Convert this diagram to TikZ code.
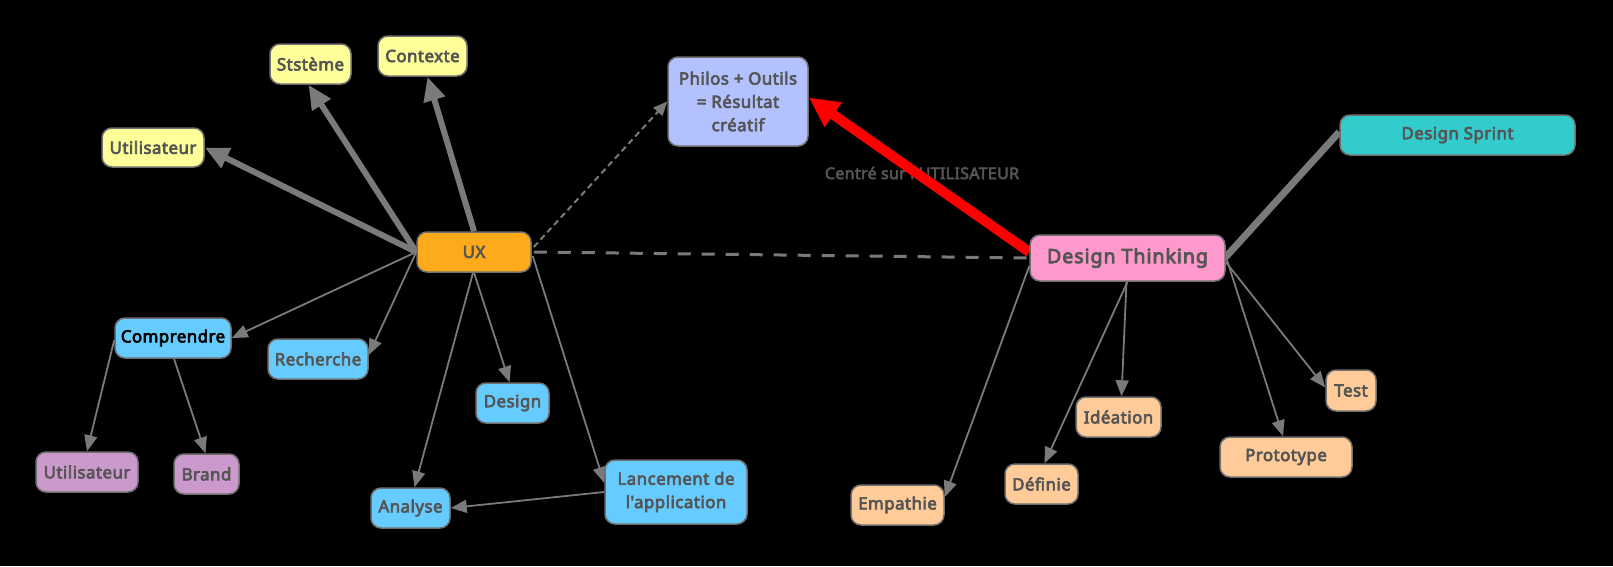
\documentclass[tikz,border=0pt]{standalone}
\usepackage{fontspec}
\setmainfont{Noto Sans}[Ligatures=TeXOff]
\newfontfamily\boxfont{Noto Sans}[FakeBold=4, LetterSpace=3, Ligatures=TeXOff]
\newfontfamily\bigfont{Noto Sans}[FakeBold=4.5, LetterSpace=5, Ligatures=TeXOff]
\newfontfamily\lblfont{Noto Sans}[FakeBold=3.5, LetterSpace=2, Ligatures=TeXOff]
\usetikzlibrary{arrows.meta,calc}
\pgfdeclarelayer{background}
\pgfsetlayers{background,main}
\definecolor{yel}{HTML}{FFFF99}
\definecolor{lav}{HTML}{B3C2FF}
\definecolor{teal}{HTML}{33CCCC}
\definecolor{pink}{HTML}{FF99CC}
\definecolor{orng}{HTML}{FFAA1A}
\definecolor{sky}{HTML}{66CCFF}
\definecolor{mauve}{HTML}{CC99CC}
\definecolor{peach}{HTML}{FFCC99}
\definecolor{bordergray}{HTML}{707070}
\definecolor{edgegray}{HTML}{7A7A7A}
\definecolor{txtgray}{HTML}{555555}
\definecolor{redline}{HTML}{FF0000}
\tikzset{
  box/.style={draw=bordergray, line width=1.5pt, rounded corners=10pt, inner sep=0pt,
    align=center, text=txtgray, font=\boxfont\fontsize{16.8}{23.3}\selectfont},
  thinedge/.style={draw=edgegray, line width=1.8pt, -{Triangle[length=16pt,width=13pt]}},
  thickedge/.style={draw=edgegray, line width=6pt, -{Triangle[length=24pt,width=21pt]}},
  rededge/.style={draw=redline, line width=10pt, -{Triangle[length=30pt,width=28pt]}},
  sprintedge/.style={draw=edgegray, line width=7pt},
  dashedge/.style={draw=edgegray, line width=3pt, dash pattern=on 13pt off 11pt},
  dashthin/.style={draw=edgegray, line width=2pt, dash pattern=on 6pt off 4pt, -{Triangle[length=14pt,width=12pt]}},
  lbl/.style={text=txtgray, font=\lblfont\fontsize{16}{19}\selectfont, inner sep=0pt}
}
\begin{document}
\begin{tikzpicture}[x=1pt,y=-1pt]
\useasboundingbox (0,0) rectangle (1613,566);
% nodes
\node[box, fill=yel, minimum width=81pt, minimum height=40pt] (stst) at (310.5,64) {Ststème};
\node[box, fill=yel, minimum width=89pt, minimum height=40pt] (ctx) at (422.5,56) {Contexte};
\node[box, fill=yel, minimum width=102pt, minimum height=39pt] (utilY) at (153,147.5) {Utilisateur};
\node[box, fill=lav, minimum width=140pt, minimum height=89pt] (philos) at (738,101.5) {Philos + Outils\\= Résultat\\créatif};
\node[box, fill=teal, minimum width=235pt, minimum height=40pt] (sprint) at (1457.5,135) {Design Sprint};
\node[box, fill=pink, minimum width=195pt, minimum height=46pt, font=\bigfont\fontsize{19.5}{23}\selectfont] (dt) at (1127.5,258) {Design Thinking};
\node[box, fill=orng, minimum width=114pt, minimum height=40pt] (ux) at (474,252) {UX};
\node[box, fill=sky, minimum width=116pt, minimum height=40pt, text=black] (comp) at (173,338) {Comprendre};
\node[box, fill=sky, minimum width=100pt, minimum height=40pt] (rech) at (318,359) {Recherche};
\node[box, fill=mauve, minimum width=102pt, minimum height=40pt] (utilP) at (87,472) {Utilisateur};
\node[box, fill=mauve, minimum width=65pt, minimum height=40pt] (brand) at (206.5,474) {Brand};
\node[box, fill=sky, minimum width=73pt, minimum height=40pt] (design) at (512.5,403) {Design};
\node[box, fill=sky, minimum width=79pt, minimum height=40pt] (analyse) at (410.5,508) {Analyse};
\node[box, fill=sky, minimum width=142pt, minimum height=64pt] (lanc) at (676,492) {Lancement de\\l'application};
\node[box, fill=peach, minimum width=50pt, minimum height=41pt] (test) at (1351,390.5) {Test};
\node[box, fill=peach, minimum width=85pt, minimum height=40pt] (ideation) at (1118.5,417) {Idéation};
\node[box, fill=peach, minimum width=132pt, minimum height=40pt] (proto) at (1286,457) {Prototype};
\node[box, fill=peach, minimum width=73pt, minimum height=40pt] (definie) at (1041.5,484) {Définie};
\node[box, fill=peach, minimum width=93pt, minimum height=40pt] (empathie) at (897.5,505) {Empathie};
% edges
\begin{pgfonlayer}{background}
\fill[black] (0,0) rectangle (1613,566);
\draw[thickedge] (ux.west) -- (utilY.east);
\draw[thickedge] (ux.west) -- ($(stst.south)+(-2,0)$);
\draw[thickedge] (ux.north) -- ($(ctx.south)+(5,0)$);
\draw[thinedge] (ux.west) -- (comp.east);
\draw[thinedge] (ux.west) -- ($(rech.east)+(0,-4)$);
\draw[thinedge] (ux.south) -- ($(design.north)+(-3,0)$);
\draw[thinedge] ($(ux.south)+(-1,0)$) -- ($(analyse.north)+(4,0)$);
\draw[thinedge] ($(ux.east)+(1,4)$) -- ($(lanc.west)+(0,-9)$);
\draw[thinedge] (lanc.west) -- (analyse.east);
\draw[dashedge] ($(ux.east)+(2,0)$) -- (dt.west);
\draw[dashthin] ($(ux.east)+(2,-5)$) -- (philos.west);
\draw[thinedge] ($(comp.west)+(0,2)$) -- (utilP.north);
\draw[thinedge] ($(comp.south)+(1,0)$) -- ($(brand.north)+(-1,0)$);
\node[lbl] (centre) at (922,173) {Centré sur l'UTILISATEUR};
\draw[rededge] ($(dt.west)+(0,-6)$) -- ($(philos.east)+(0,-4)$);
\draw[sprintedge] ($(dt.east)+(0,-1)$) -- ($(sprint.west)+(0,-3)$);
\draw[thinedge] ($(dt.west)+(0,8)$) -- ($(empathie.east)+(0,-8)$);
\draw[thinedge] (dt.south) -- ($(definie.north)+(3,0)$);
\draw[thinedge] ($(dt.south)+(-1,0)$) -- ($(ideation.north)+(3,0)$);
\draw[thinedge] ($(dt.east)+(0,-2)$) -- ($(proto.north)+(-3,0)$);
\draw[thinedge] ($(dt.east)+(0,4)$) -- ($(test.west)+(0,-3)$);
\end{pgfonlayer}
\end{tikzpicture}
\end{document}
